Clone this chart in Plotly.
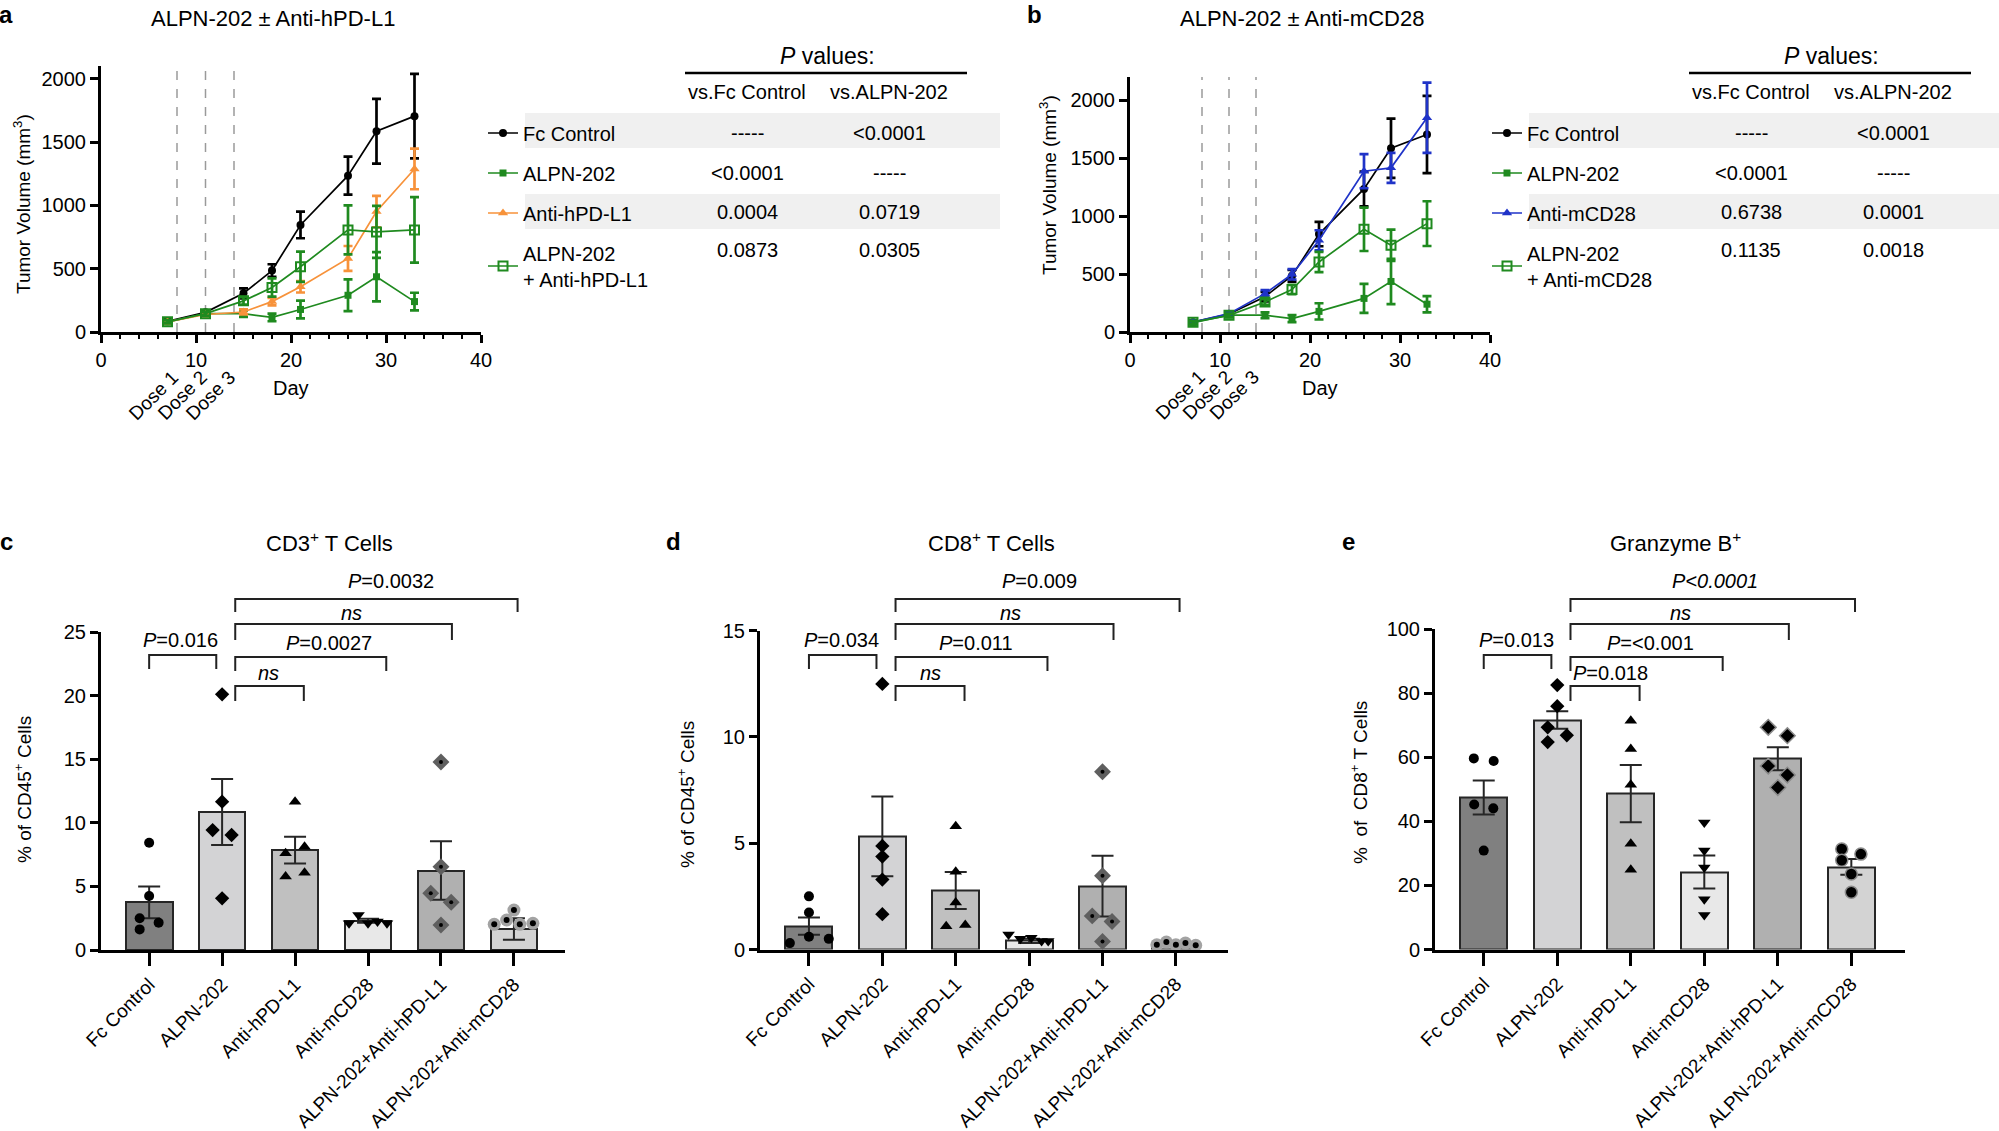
import plotly.graph_objects as go

W, H = 1999, 1131
FONT = "Liberation Sans, Arial, Helvetica, sans-serif"


def px(x):
    return x / W


def py(y):
    return 1 - y / H


# ---------------- Panels a / b : tumour growth ----------------
DAYS = [7, 11, 15, 18, 21, 26, 29, 33]
FC_MEAN = [85, 155, 305, 485, 845, 1234, 1585, 1704]
FC_SEM = [15, 15, 40, 50, 105, 150, 256, 334]
ALPN_MEAN = [80, 145, 145, 115, 178, 290, 436, 240]
ALPN_SEM = [15, 15, 25, 30, 70, 125, 195, 70]
HPDL1_MEAN = [80, 138, 158, 240, 357, 581, 951, 1287]
HPDL1_SEM = [12, 15, 20, 30, 45, 98, 124, 160]
ALPN_HPDL1_MEAN = [80, 145, 246, 351, 515, 806, 790, 806]
ALPN_HPDL1_SEM = [12, 15, 30, 72, 119, 193, 205, 259]
MCD28_MEAN = [85, 158, 331, 498, 791, 1387, 1416, 1848]
MCD28_SEM = [12, 15, 30, 45, 87, 147, 130, 303]
ALPN_MCD28_MEAN = [85, 144, 259, 366, 604, 886, 748, 935]
ALPN_MCD28_SEM = [12, 15, 25, 40, 87, 187, 135, 193]
DOSE_DAYS = [8, 11, 14]
DOSE_LABELS = ["Dose 1", "Dose 2", "Dose 3"]

TABLE_HEAD = ["vs.Fc Control", "vs.ALPN-202"]
TABLE_A_ROWS = ["Fc Control", "ALPN-202", "Anti-hPD-L1", "ALPN-202<br>+ Anti-hPD-L1"]
TABLE_A_VS_FC = ["-----", "&lt;0.0001", "0.0004", "0.0873"]
TABLE_A_VS_ALPN = ["&lt;0.0001", "-----", "0.0719", "0.0305"]
TABLE_B_ROWS = ["Fc Control", "ALPN-202", "Anti-mCD28", "ALPN-202<br>+ Anti-mCD28"]
TABLE_B_VS_FC = ["-----", "&lt;0.0001", "0.6738", "0.1135"]
TABLE_B_VS_ALPN = ["&lt;0.0001", "-----", "0.0001", "0.0018"]

# ---------------- Panels c / d / e : bar charts ----------------
GROUPS = ["Fc Control", "ALPN-202", "Anti-hPD-L1", "Anti-mCD28",
          "ALPN-202+Anti-hPD-L1", "ALPN-202+Anti-mCD28"]

CD3_MEAN = [3.75, 10.85, 7.85, 2.3, 6.25, 1.65]
CD3_SEM = [1.25, 2.6, 1.05, 0.15, 2.3, 0.85]
CD3_POINTS = [[8.43, 4.25, 2.49, 2.15, 1.62],
              [20.1, 11.66, 9.43, 9.04, 4.06],
              [11.66, 8.12, 7.6, 6.08, 5.77],
              [2.1, 2.75, 2.1, 2.25, 2.1],
              [14.78, 6.55, 4.46, 3.75, 1.97],
              [2.02, 2.36, 3.14, 2.02, 2.1]]
CD3_P = ["<i>P</i>=0.016", "<i>ns</i>", "<i>P</i>=0.0027", "<i>ns</i>", "<i>P</i>=0.0032"]

CD8_MEAN = [1.1, 5.32, 2.77, 0.4, 2.98, 0.25]
CD8_SEM = [0.41, 1.88, 0.87, 0.1, 1.43, 0.04]
CD8_POINTS = [[2.5, 1.74, 0.6, 0.5, 0.3],
              [12.49, 4.87, 4.37, 3.29, 1.66],
              [5.8, 3.66, 2.21, 1.09, 1.15],
              [0.7, 0.5, 0.55, 0.4, 0.4],
              [8.36, 3.47, 1.58, 1.32, 0.38],
              [0.22, 0.35, 0.22, 0.3, 0.2]]
CD8_P = ["<i>P</i>=0.034", "<i>ns</i>", "<i>P</i>=0.011", "<i>ns</i>", "<i>P</i>=0.009"]

GZB_MEAN = [47.5, 71.7, 48.7, 24.2, 59.6, 25.8]
GZB_SEM = [5.3, 2.7, 8.95, 5.15, 3.6, 2.45]
GZB_POINTS = [[59.7, 58.9, 45.3, 44.1, 30.9],
              [82.6, 76.0, 69.4, 66.9, 64.8],
              [71.5, 62.6, 51.5, 33.0, 24.9],
              [39.7, 30.9, 25.6, 15.7, 10.8],
              [69.4, 66.8, 57.3, 54.5, 50.6],
              [31.4, 29.8, 27.9, 23.6, 17.9]]
GZB_P = ["<i>P</i>=0.013", "<i>P</i>=0.018", "<i>P</i>=&lt;0.001", "<i>ns</i>", "<i>P&lt;0.0001</i>"]

# ---------------- styles / layout constants ----------------
GREEN = "#1f8a1f"
ORANGE = "#f7923a"
BLUE = "#1f33c8"
BAR_COLORS = ["#808080", "#d3d3d5", "#c0c0c0", "#e8e8e8", "#b0b0b0", "#d3d3d3"]

JITTER_C = [[0, 0, -0.13, 0.13, -0.13], [0, 0, -0.13, 0.13, 0], [0, 0.13, -0.13, 0.13, -0.13],
            [-0.26, -0.13, 0, 0.13, 0.26], [0, 0, -0.14, 0.14, 0], [-0.27, -0.1, 0, 0.08, 0.26]]
JITTER_D = [[0, 0, 0, 0.27, -0.26], [0, 0, 0, 0, 0], [0, 0, 0, -0.13, 0.13],
            [-0.28, -0.12, 0.03, 0.17, 0.26], [0, 0, -0.14, 0.13, 0], [-0.26, -0.13, 0, 0.13, 0.27]]
JITTER_E = [[-0.135, 0.135, -0.13, 0.13, 0], [0, 0, -0.13, 0.13, -0.13], [0, 0, 0, 0, 0],
            [0, 0, 0, 0, 0], [-0.13, 0.13, -0.13, 0.13, 0], [-0.13, 0.13, -0.13, 0, 0]]

# comparisons (bracket geometry, pixel rows shared by c/d/e)
BRACKET_X = [(0.0, 0.92), (1.18, 2.12), (1.18, 3.25), (1.18, 4.15), (1.18, 5.05)]
BRACKET_TOP = [655, 686, 657, 624, 599]
BRACKET_LEG = [669, 701, 671, 640, 612]
BRACKET_TEXT_Y = [640, 673, 643, 613, 581]

fig = go.Figure()


def add_growth(xa, ya, leg, series):
    for i, (name, mean, sem, color, sym, size) in enumerate(series):
        fig.add_trace(go.Scatter(
            x=DAYS, y=mean, mode="lines+markers", name=name,
            line=dict(color=color, width=1.7),
            marker=dict(symbol=sym, size=size, color=color,
                        line=dict(color=color, width=2 if "open" in sym else 0)),
            error_y=dict(type="data", array=sem, color=color, thickness=2.7, width=4.5),
            xaxis=xa, yaxis=ya, legend=leg, legendgroup=f"{leg}{i}", showlegend=True,
            cliponaxis=False))


add_growth("x", "y", "legend", [
    ("Fc Control", FC_MEAN, FC_SEM, "black", "circle", 8),
    ("ALPN-202", ALPN_MEAN, ALPN_SEM, GREEN, "square", 7),
    ("Anti-hPD-L1", HPDL1_MEAN, HPDL1_SEM, ORANGE, "triangle-up", 9),
    ("ALPN-202<br>+ Anti-hPD-L1", ALPN_HPDL1_MEAN, ALPN_HPDL1_SEM, GREEN, "square-open", 9),
])
add_growth("x2", "y2", "legend2", [
    ("Fc Control", FC_MEAN, FC_SEM, "black", "circle", 8),
    ("ALPN-202", ALPN_MEAN, ALPN_SEM, GREEN, "square", 7),
    ("Anti-mCD28", MCD28_MEAN, MCD28_SEM, BLUE, "triangle-up", 9),
    ("ALPN-202<br>+ Anti-mCD28", ALPN_MCD28_MEAN, ALPN_MCD28_SEM, GREEN, "square-open", 9),
])


def add_bars(xa, ya, mean, sem, points, jitter, dark_combo):
    idx = list(range(len(GROUPS)))
    fig.add_trace(go.Bar(
        x=idx, y=mean, width=0.64,
        marker=dict(color=BAR_COLORS, line=dict(color="#262626", width=2)),
        error_y=dict(type="data", array=sem, color="#262626", thickness=2, width=11),
        xaxis=xa, yaxis=ya, showlegend=False))
    symbols = ["circle", "diamond", "triangle-up", "triangle-down", "diamond", "circle"]
    sizes = [10, 11, 11, 11, 13, 13]
    for g in idx:
        xs = [g + j for j in jitter[g]]
        if g >= 4:
            if dark_combo:
                mk = dict(symbol=symbols[g], size=sizes[g] - 1, color="black",
                          line=dict(color="#8a8a8a", width=1.5))
            else:
                mk = dict(symbol=symbols[g], size=sizes[g],
                          color="#5f5f5f" if g == 4 else "#a3a3a3",
                          line=dict(color="#5f5f5f" if g == 4 else "#a3a3a3", width=0))
        else:
            mk = dict(symbol=symbols[g], size=sizes[g], color="black")
        fig.add_trace(go.Scatter(x=xs, y=points[g], mode="markers", marker=mk,
                                 xaxis=xa, yaxis=ya, showlegend=False, cliponaxis=False))
        if g >= 4 and not dark_combo:
            fig.add_trace(go.Scatter(x=xs, y=points[g], mode="markers",
                                     marker=dict(symbol="circle", size=4 if g == 4 else 6, color="black"),
                                     xaxis=xa, yaxis=ya, showlegend=False, cliponaxis=False))


add_bars("x3", "y3", CD3_MEAN, CD3_SEM, CD3_POINTS, JITTER_C, False)
add_bars("x4", "y4", CD8_MEAN, CD8_SEM, CD8_POINTS, JITTER_D, False)
add_bars("x5", "y5", GZB_MEAN, GZB_SEM, GZB_POINTS, JITTER_E, True)

tickfont = dict(family=FONT, size=20, color="black")
common = dict(showline=True, linecolor="black", linewidth=3, ticks="outside", tickcolor="black",
              tickwidth=3, showgrid=False, zeroline=False, fixedrange=True, automargin=False)

growth_x = dict(range=[0, 40], tick0=0, dtick=10, ticklen=8, tickfont=tickfont,
                minor=dict(dtick=2, ticks="outside", ticklen=4, tickwidth=2, tickcolor="black"), **common)
bar_x = dict(tickmode="array", tickvals=list(range(6)), ticktext=GROUPS, tickangle=-45, ticklen=13,
             tickfont=dict(family=FONT, size=19, color="black"), **common)
ycommon = dict(tickfont=tickfont, ticklen=8, **common)

fig.update_layout(
    template="none",
    width=W, height=H, margin=dict(l=0, r=0, t=0, b=0, pad=0, autoexpand=False),
    paper_bgcolor="white", plot_bgcolor="white",
    font=dict(family=FONT, size=20, color="black"),
    bargap=0,
    xaxis=dict(domain=[px(101), px(481)], anchor="y", **growth_x),
    yaxis=dict(domain=[py(332), py(66)], range=[0, 2100], tick0=0, dtick=500, anchor="x", **ycommon),
    xaxis2=dict(domain=[px(1130), px(1490)], anchor="y2", **growth_x),
    yaxis2=dict(domain=[py(332), py(77)], range=[0, 2200], tick0=0, dtick=500, anchor="x2", **ycommon),
    xaxis3=dict(domain=[px(101), px(565)], range=[-0.66, 5.70], anchor="y3", **bar_x),
    yaxis3=dict(domain=[py(950), py(632)], range=[0, 25], tick0=0, dtick=5, anchor="x3", **ycommon),
    xaxis4=dict(domain=[px(760), px(1228)], range=[-0.667, 5.71], anchor="y4", **bar_x),
    yaxis4=dict(domain=[py(949.5), py(630.6)], range=[0, 15], tick0=0, dtick=5, anchor="x4", **ycommon),
    xaxis5=dict(domain=[px(1435), px(1905)], range=[-0.663, 5.73], anchor="y5", **bar_x),
    yaxis5=dict(domain=[py(949.5), py(629.4)], range=[0, 100], tick0=0, dtick=20, anchor="x5", **ycommon),
    legend=dict(x=px(483), y=py(113.5), xanchor="left", yanchor="top", traceorder="grouped",
                tracegroupgap=11, font=dict(family=FONT, size=20, color="black"),
                bgcolor="rgba(0,0,0,0)", borderwidth=0, itemclick=False, itemdoubleclick=False),
    legend2=dict(x=px(1487), y=py(113.5), xanchor="left", yanchor="top", traceorder="grouped",
                 tracegroupgap=11, font=dict(family=FONT, size=20, color="black"),
                 bgcolor="rgba(0,0,0,0)", borderwidth=0, itemclick=False, itemdoubleclick=False),
)

shapes = []
annotations = []


def ann(x, y, text, size=20, xref="paper", yref="paper", angle=0, bold=False, xanchor="center"):
    annotations.append(dict(x=x, y=y, xref=xref, yref=yref, text=f"<b>{text}</b>" if bold else text,
                            showarrow=False, textangle=angle, xanchor=xanchor, yanchor="middle",
                            font=dict(family=FONT, size=size, color="black")))


# ---- a / b decorations ----
for xa, ttl, tx, lab_x, ytitle_x, ytitle_y, day_x, tab_dx, rows, vfc, valpn, band_x1 in [
        ("x", "ALPN-202 ± Anti-hPD-L1", 273, 6, 22, 204, 291, 0, TABLE_A_ROWS, TABLE_A_VS_FC, TABLE_A_VS_ALPN, 1000),
        ("x2", "ALPN-202 ± Anti-mCD28", 1302, 1034, 1048, 185, 1320, 1004, TABLE_B_ROWS, TABLE_B_VS_FC, TABLE_B_VS_ALPN, 1999)]:
    ann(px(lab_x), py(14), "a" if xa == "x" else "b", size=24, bold=True)
    ann(px(tx), py(19), ttl, size=22)
    ann(px(ytitle_x), py(ytitle_y), "Tumor Volume (mm<sup>3</sup>)", size=19, angle=-90)
    ann(px(day_x), py(388), "Day", size=20)
    for d, lbl in zip(DOSE_DAYS, DOSE_LABELS):
        shapes.append(dict(type="line", xref=xa, yref=f"{'y' if xa == 'x' else 'y2'} domain",
                           x0=d, x1=d, y0=0, y1=1, line=dict(color="#9a9a9a", width=1.5, dash="dash"),
                           layer="below"))
        ann(d - 2.5, py(395), lbl, size=19, xref=xa, angle=-45)
    # table
    for y0, y1 in [(113, 148), (194, 229)]:
        shapes.append(dict(type="rect", xref="paper", yref="paper", x0=px(525 + tab_dx), x1=px(band_x1),
                           y0=py(y1), y1=py(y0), fillcolor="#f0f0f0", line=dict(width=0), layer="below"))
    ann(px(827 + tab_dx), py(56), "<i>P</i> values:", size=23)
    shapes.append(dict(type="line", xref="paper", yref="paper", x0=px(685 + tab_dx), x1=px(967 + tab_dx),
                       y0=py(73), y1=py(73), line=dict(color="black", width=2.5)))
    ann(px(747 + tab_dx), py(92), TABLE_HEAD[0])
    ann(px(889 + tab_dx), py(92), TABLE_HEAD[1])
    for i, (a1, a2) in enumerate(zip(vfc, valpn)):
        yy = [133, 173, 212, 250][i]
        ann(px(747 + tab_dx), py(yy), a1)
        ann(px(889 + tab_dx), py(yy), a2)

# ---- c / d / e decorations ----
panels = [
    ("x3", "c", 6, "CD3<sup>+</sup> T Cells", 329, "% of CD45<sup>+</sup> Cells", 23, 790, CD3_P,
     [0.43, 1.64, 2.46, 2.78, 3.32]),
    ("x4", "d", 673, "CD8<sup>+</sup> T Cells", 991, "% of CD45<sup>+</sup> Cells", 686, 795, CD8_P,
     [0.45, 1.66, 2.28, 2.74, 3.14]),
    ("x5", "e", 1348, "Granzyme B<sup>+</sup>", 1675, "%  of  CD8<sup>+</sup> T Cells", 1359, 783, GZB_P,
     [0.45, 1.73, 2.27, 2.67, 3.14]),
]
for xa, lab, lab_x, ttl, tx, ytitle, ytx, yty, ptexts, text_x in panels:
    ann(px(lab_x), py(541), lab, size=24, bold=True)
    ann(px(tx), py(542), ttl, size=22)
    ann(px(ytx), py(yty), ytitle, size=19, angle=-90)
    for (x0, x1), top, leg, ty, txt, txx in zip(BRACKET_X, BRACKET_TOP, BRACKET_LEG, BRACKET_TEXT_Y,
                                              ptexts, text_x):
        shapes.append(dict(type="path", xref=xa, yref="paper",
                           path=f"M {x0},{py(leg)} L {x0},{py(top)} L {x1},{py(top)} L {x1},{py(leg)}",
                           line=dict(color="#222222", width=2)))
        ann(txx, py(ty), txt, size=20, xref=xa)

fig.update_layout(shapes=shapes, annotations=annotations)
fig.write_html("out.html", config={"displayModeBar": False},
               post_script="document.documentElement.style.margin='0';document.body.style.margin='0';"
                           "document.body.style.overflow='hidden';")
